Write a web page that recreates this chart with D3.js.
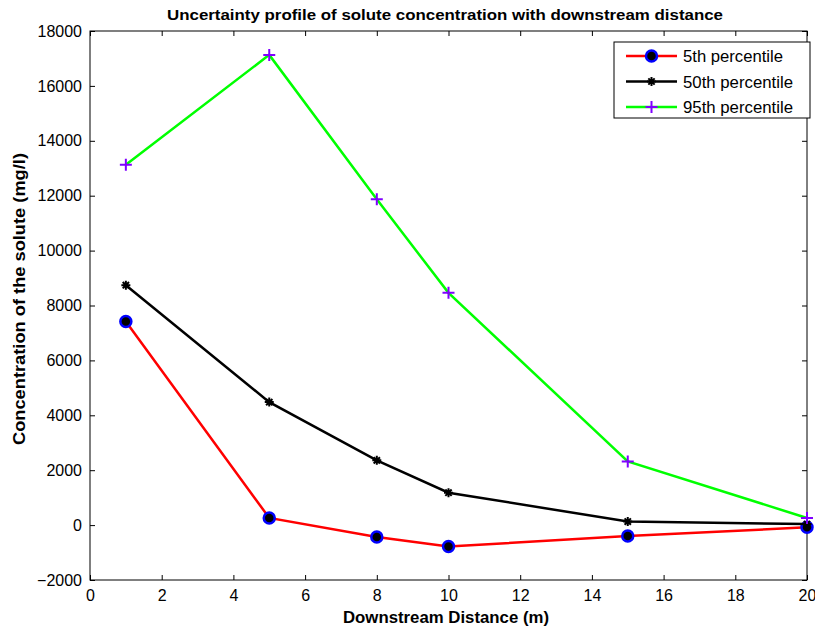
<!DOCTYPE html>
<html><head><meta charset="utf-8">
<script src="https://cdn.jsdelivr.net/npm/d3@7"></script>
<style>body{margin:0;background:#fff}svg{display:block}text{font-family:"Liberation Sans",Arial,sans-serif}</style>
</head><body>
<script>
const distances = [1, 5, 8, 10, 15, 20];
const p5 = [7420, 260, -430, -780, -400, -80];
const p50 = [8740, 4480, 2360, 1180, 130, 40];
const p95 = [13130, 17130, 11870, 8460, 2320, 260];
const seriesNames = ["5th percentile", "50th percentile", "95th percentile"];
const xTicks = [0,2,4,6,8,10,12,14,16,18,20];
const yTicks = [-2000,0,2000,4000,6000,8000,10000,12000,14000,16000,18000];

const W = 815, H = 628;
const L = 90, R = 807, T = 31, B = 580;
const svg = d3.select("body").append("svg").attr("width", W).attr("height", H);
const x = d3.scaleLinear().domain([0,20]).range([L,R]);
const y = d3.scaleLinear().domain([-2000,18000]).range([B,T]);

svg.append("rect").attr("x",L).attr("y",T).attr("width",R-L).attr("height",B-T)
  .attr("fill","none").attr("stroke","#000").attr("stroke-width",1);

const tl = 5;
const gx = svg.append("g").attr("transform",`translate(0,${B})`)
  .call(d3.axisBottom(x).tickValues(xTicks).tickSize(-tl).tickPadding(10).tickFormat(d3.format("d")));
const gxt = svg.append("g").attr("transform",`translate(0,${T})`)
  .call(d3.axisTop(x).tickValues(xTicks).tickSize(-tl).tickFormat(""));
const gy = svg.append("g").attr("transform",`translate(${L},0)`)
  .call(d3.axisLeft(y).tickValues(yTicks).tickSize(-tl).tickPadding(8).tickFormat(d3.format("d")));
const gyr = svg.append("g").attr("transform",`translate(${R},0)`)
  .call(d3.axisRight(y).tickValues(yTicks).tickSize(-tl).tickFormat(""));
[gx,gxt,gy,gyr].forEach(g=>{
  g.select(".domain").remove();
  g.selectAll("line").attr("stroke","#000");
  g.selectAll("text").attr("font-size","16px").attr("fill","#000").attr("font-family","Liberation Sans, Arial, sans-serif");
});

const series = [
  {name: seriesNames[0], vals: p5, color: "#ff0000", marker: "circle"},
  {name: seriesNames[1], vals: p50, color: "#000000", marker: "star"},
  {name: seriesNames[2], vals: p95, color: "#00ff00", marker: "plus"}
];
const line = d3.line().x(d=>x(d[0])).y(d=>y(d[1]));

function drawMarker(g, cx, cy, type){
  if(type==="circle"){
    g.append("circle").attr("cx",cx).attr("cy",cy).attr("r",5.5)
      .attr("fill","#000").attr("stroke","#0000ff").attr("stroke-width",2.5);
  } else if(type==="star"){
    const s=4.5;
    const p = `M${cx-s},${cy}L${cx+s},${cy}M${cx},${cy-s}L${cx},${cy+s}M${cx-s*0.7},${cy-s*0.7}L${cx+s*0.7},${cy+s*0.7}M${cx-s*0.7},${cy+s*0.7}L${cx+s*0.7},${cy-s*0.7}`;
    g.append("path").attr("d",p).attr("stroke","#000").attr("stroke-width",2).attr("fill","none");
  } else {
    const s=6;
    g.append("path").attr("d",`M${cx-s},${cy}L${cx+s},${cy}M${cx},${cy-s}L${cx},${cy+s}`)
      .attr("stroke","#8000ff").attr("stroke-width",2).attr("fill","none");
  }
}

series.forEach(s=>{
  const pts = distances.map((d,i)=>[d, s.vals[i]]);
  svg.append("path").attr("d", line(pts)).attr("fill","none")
    .attr("stroke", s.color).attr("stroke-width",2.5).attr("stroke-linejoin","miter");
  const g = svg.append("g");
  pts.forEach(p=>drawMarker(g, x(p[0]), y(p[1]), s.marker));
});

// legend
const lg = svg.append("g");
lg.append("rect").attr("x",614).attr("y",42).attr("width",196).attr("height",76)
  .attr("fill","#fff").attr("stroke","#000").attr("stroke-width",1);
const legendW = [100, 110, 110];
series.forEach((s,i)=>{
  const ly = 56 + i*25.5;
  lg.append("line").attr("x1",626).attr("x2",677).attr("y1",ly).attr("y2",ly)
    .attr("stroke",s.color).attr("stroke-width",2.5);
  drawMarker(lg, 651.5, ly, s.marker);
  lg.append("text").attr("x",683).attr("y",ly+6).attr("font-size","16px")
    .attr("textLength",legendW[i]).attr("lengthAdjust","spacingAndGlyphs").text(s.name);
});

svg.append("text").attr("x",445).attr("y",20).attr("text-anchor","middle")
  .attr("font-size","15.5px").attr("font-weight","bold")
  .attr("textLength",556).attr("lengthAdjust","spacingAndGlyphs")
  .text("Uncertainty profile of solute concentration with downstream distance");
svg.append("text").attr("x",446).attr("y",623).attr("text-anchor","middle")
  .attr("font-size","16.5px").attr("font-weight","bold")
  .attr("textLength",206).attr("lengthAdjust","spacingAndGlyphs")
  .text("Downstream Distance (m)");
svg.append("text").attr("transform","translate(25,299) rotate(-90)").attr("text-anchor","middle")
  .attr("font-size","16.5px").attr("font-weight","bold")
  .attr("textLength",292).attr("lengthAdjust","spacingAndGlyphs")
  .text("Concentration of the solute (mg/l)");
</script>
</body></html>
